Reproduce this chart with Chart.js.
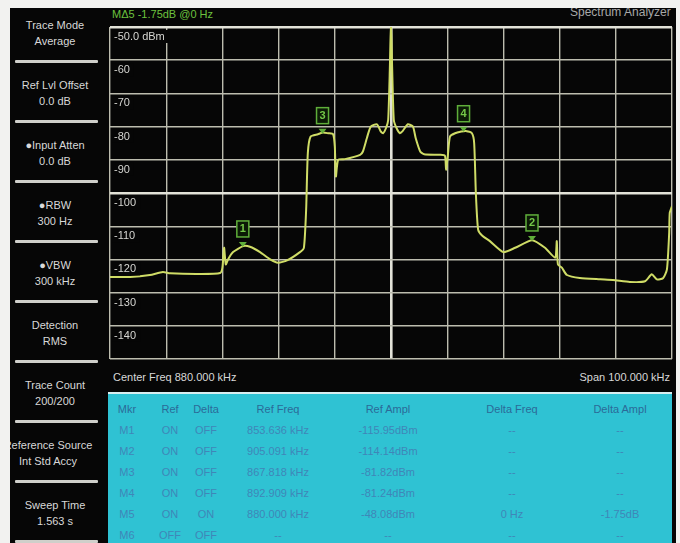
<!DOCTYPE html>
<html>
<head>
<meta charset="utf-8">
<script src="https://cdn.jsdelivr.net/npm/chart.js@4.4.1/dist/chart.umd.min.js"></script>
<style>
  body { margin: 0; width: 680px; height: 543px; background: #f2f2f0; overflow: hidden; position: relative;
         font-family: "Liberation Sans", Arial, sans-serif; }
  #screen { position: absolute; left: 10px; top: 8px; width: 666px; height: 535px; background: #060606; overflow: hidden; }
  .side { position: absolute; left: 0; width: 90px; text-align: center; color: #d8d8d8; font-size: 11px; line-height: 16px; white-space: nowrap; }
  .sep { position: absolute; left: 5px; width: 83px; height: 3px; background: #cfcfca; border-radius: 1px; }
  .txt { position: absolute; font-size: 11px; white-space: nowrap; }
  #box { position: absolute; left: 94px; top: 13px; width: 574px; height: 344px; }
  #table { position: absolute; left: 98px; top: 384px; width: 564px; height: 160px; background: #2fc2d3; border-top: 2px solid #d8eef0; }
  .cell { position: absolute; font-size: 11px; white-space: nowrap; transform: translate(-50%, -50%); color: #3f86b8; }
  .hd { color: #2b6a98; }
</style>
</head>
<body>
<div id="screen">
  <div class="txt" style="left:102px; top:0px; color:#6cc23e;">MΔ5 -1.75dB @0 Hz</div>
  <div class="txt" style="left:560px; top:-3px; color:#a8a8a8; font-size:12px;">Spectrum Analyzer</div>
  <div id="side"></div>
  <div id="box"><canvas id="trace"></canvas></div>
  <div class="txt" style="left:103px; top:363px; color:#d8d8d8;">Center Freq 880.000 kHz</div>
  <div class="txt" style="right:6px; top:363px; color:#d8d8d8;">Span 100.000 kHz</div>
  <div id="table"></div>
</div>
<script>
// trace points: frequency in kHz, level in dBm
var freq = [830.0, 833.6, 837.1, 839.4, 840.7, 846.0, 849.6, 850.0, 850.3, 850.6, 851.0, 851.9, 853.7, 854.9, 856.7,
            858.5, 859.9, 861.5, 863.8, 864.5, 864.9, 865.2, 865.7, 867.0, 867.9, 868.8, 869.7, 870.0, 870.2, 870.6,
            871.8, 874.5, 875.0, 875.7, 876.4, 877.5, 878.2, 878.6, 879.1, 879.5, 879.8, 880.0, 880.2, 880.5, 881.0,
            881.6, 882.1, 883.0, 883.9, 884.4, 885.2, 885.9, 888.7, 889.6, 889.8, 890.1, 890.5, 891.4, 892.5, 893.3,
            894.4, 894.8, 895.1, 895.5, 896.2, 897.6, 900.0, 902.1, 905.1, 907.4, 909.2, 909.5, 909.7, 910.4, 911.3,
            913.6, 917.2, 919.5, 922.5, 925.2, 926.4, 927.3, 928.4, 929.1, 929.5, 929.6, 930.0];
var level = [-125.3, -125.3, -124.7, -123.8, -124.2, -124.4, -124.1, -122.5, -116.5, -121.5, -120.0, -117.8, -116.0, -116.2, -117.8,
             -120.0, -121.0, -120.3, -117.8, -116.5, -105.0, -88.0, -83.0, -82.3, -81.8, -82.0, -82.3, -86.0, -95.0, -90.0,
             -89.8, -88.5, -87.5, -83.5, -80.0, -79.3, -81.5, -82.0, -80.5, -78.0, -62.0, -48.08, -62.0, -78.0, -80.5,
             -82.0, -81.3, -79.3, -80.0, -83.5, -87.5, -88.3, -88.5, -88.8, -93.0, -89.0, -83.0, -82.0, -81.5, -81.3,
             -82.0, -85.0, -100.0, -111.0, -112.8, -114.5, -117.8, -116.5, -114.2, -116.5, -119.5, -114.5, -121.5, -122.5, -124.7,
             -125.6, -126.0, -126.2, -126.8, -126.6, -124.5, -126.0, -125.7, -123.0, -112.0, -106.0, -104.0];

var yTickLabels = ["-50.0 dBm", "-60", "-70", "-80", "-90", "-100", "-110", "-120", "-130", "-140"];
var yTickValues = [-50, -60, -70, -80, -90, -100, -110, -120, -130, -140];

var markerNames = ["1", "2", "3", "4"];
var markerFreq = [853.636, 905.091, 867.818, 892.909];
var markerAmpl = [-115.95, -114.14, -81.82, -81.24];

var sideTop = ["Trace Mode", "Ref Lvl Offset", "\u25CFInput Atten", "\u25CFRBW", "\u25CFVBW", "Detection", "Trace Count", "Reference Source", "Sweep Time"];
var sideBottom = ["Average", "0.0 dB", "0.0 dB", "300 Hz", "300 kHz", "RMS", "200/200", "Int Std Accy", "1.563 s"];

var tableHead = ["Mkr", "Ref", "Delta", "Ref Freq", "Ref Ampl", "Delta Freq", "Delta Ampl"];
var tableRows = [
  ["M1", "ON", "OFF", "853.636 kHz", "-115.95dBm", "--", "--"],
  ["M2", "ON", "OFF", "905.091 kHz", "-114.14dBm", "--", "--"],
  ["M3", "ON", "OFF", "867.818 kHz", "-81.82dBm", "--", "--"],
  ["M4", "ON", "OFF", "892.909 kHz", "-81.24dBm", "--", "--"],
  ["M5", "ON", "ON", "880.000 kHz", "-48.08dBm", "0 Hz", "-1.75dB"],
  ["M6", "OFF", "OFF", "--", "--", "--", "--"]
];

// side menu
var side = document.getElementById('side');
for (var i = 0; i < sideTop.length; i++) {
  var y0 = i * 60;
  var d = document.createElement('div');
  d.className = 'side';
  d.style.top = (y0 + 9) + 'px';
  if (i == 7) { d.style.left = '-14px'; d.style.width = '104px'; }
  d.innerHTML = sideTop[i] + '<br>' + sideBottom[i];
  side.appendChild(d);
  var s = document.createElement('div');
  s.className = 'sep';
  s.style.top = (y0 + 52) + 'px';
  side.appendChild(s);
}

// marker table
var colX = [19, 62, 98, 170, 280, 404, 512];
var table = document.getElementById('table');
function addRow(cells, y, cls) {
  for (var c = 0; c < cells.length; c++) {
    var e = document.createElement('div');
    e.className = 'cell ' + cls;
    e.style.left = colX[c] + 'px';
    e.style.top = y + 'px';
    e.textContent = cells[c];
    table.appendChild(e);
  }
}
addRow(tableHead, 15, 'hd');
for (var r = 0; r < tableRows.length; r++) addRow(tableRows[r], 36 + r * 21, '');

var points = freq.map(function (f, i) { return { x: f, y: level[i] }; });

var screenLabels = {
  id: 'screenLabels',
  afterDraw: function (chart) {
    var c = chart.ctx, xs = chart.scales.x, ys = chart.scales.y, a = chart.chartArea;
    c.save();
    c.font = '11px "Liberation Sans", Arial, sans-serif';
    c.textBaseline = 'middle';
    for (var i = 0; i < yTickValues.length; i++) {
      var py = ys.getPixelForValue(yTickValues[i]);
      c.fillStyle = '#060606';
      var w = c.measureText(yTickLabels[i]).width;
      c.fillRect(a.left + 2, py + 3, w + 6, 13);
      c.fillStyle = '#d6d6d2';
      c.fillText(yTickLabels[i], a.left + 4, py + 10);
    }
    // markers
    for (var m = 0; m < markerNames.length; m++) {
      var px = xs.getPixelForValue(markerFreq[m]);
      var my = ys.getPixelForValue(markerAmpl[m]);
      c.fillStyle = '#5fae3a';
      c.beginPath();
      c.moveTo(px - 4, my - 4); c.lineTo(px + 4, my - 4); c.lineTo(px, my + 1); c.closePath();
      c.fill();
      c.strokeStyle = '#5fae3a';
      c.lineWidth = 1.5;
      c.fillStyle = '#0b1a06';
      c.fillRect(px - 6, my - 25, 12, 16);
      c.strokeRect(px - 6, my - 25, 12, 16);
      c.fillStyle = '#74c848';
      c.textAlign = 'center';
      c.font = 'bold 11px "Liberation Sans", Arial, sans-serif';
      c.fillText(markerNames[m], px, my - 17);
      c.textAlign = 'left';
      c.font = '11px "Liberation Sans", Arial, sans-serif';
    }
    c.restore();
  }
};

function gridColor(ctx) {
  var v = ctx.tick ? ctx.tick.value : 0;
  return (v === -100 || v === 880 || v === -50) ? '#e2e2d8' : '#bcbcae';
}
function gridWidth(ctx) {
  var v = ctx.tick ? ctx.tick.value : 0;
  return (v === -100 || v === 880 || v === -50) ? 2.6 : 1.4;
}

var ctx = document.getElementById('trace').getContext('2d');

var spectrum = new Chart(ctx, {
  type: 'line',
  data: {
    datasets: [{
      label: "Trace",
      data: points,
      borderColor: "#cfdc66",
      borderWidth: 2,
      pointRadius: 0,
      tension: 0.2,
      fill: false
    }]
  },
  options: {
    responsive: true,
    maintainAspectRatio: false,
    animation: false,
    layout: { padding: 6 },
    plugins: { legend: { display: false }, tooltip: { enabled: false } },
    scales: {
      x: {
        type: 'linear', min: 830, max: 930,
        ticks: { display: false, stepSize: 10 },
        border: { display: false },
        grid: { drawTicks: false, color: gridColor, lineWidth: gridWidth }
      },
      y: {
        min: -150, max: -50,
        ticks: { display: false, stepSize: 10 },
        border: { display: false },
        grid: { drawTicks: false, color: gridColor, lineWidth: gridWidth }
      }
    }
  },
  plugins: [screenLabels]
});
</script>
</body>
</html>
